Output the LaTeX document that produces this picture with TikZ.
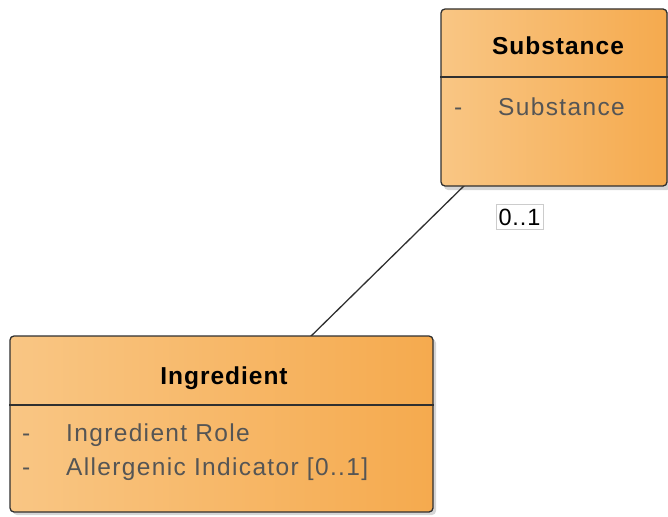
\documentclass[tikz,border=0pt]{standalone}
\usepackage{fontspec}
\setmainfont{Liberation Sans}
\usetikzlibrary{calc}
\definecolor{boxL}{HTML}{F9C684}
\definecolor{boxM}{HTML}{FAD09A}
\definecolor{boxR}{HTML}{F5AA4E}
\definecolor{edge}{HTML}{303030}
\definecolor{attr}{HTML}{555555}
\tikzset{
  umlbox/.style={draw=edge, line width=1.3pt, rounded corners=4pt, left color=boxL, middle color=boxM, right color=boxR, shading angle=90, inner sep=0pt},
  boxshadow/.style={fill=gray!55, rounded corners=4pt, opacity=0.6},
  title/.style={font=\fontsize{24.5}{28}\selectfont\bfseries\addfontfeature{LetterSpace=4}, text=black, inner sep=0pt, anchor=base},
  attrtext/.style={font=\fontsize{24.5}{28}\selectfont\addfontfeature{LetterSpace=5.5}, text=attr, inner sep=0pt, anchor=base west},
  divider/.style={draw=edge, line width=1.3pt},
  mult/.style={draw=gray!40, fill=white, font=\fontsize{23.5}{26}\selectfont\addfontfeature{LetterSpace=4}, inner xsep=2.5pt, inner ysep=4pt, text=black},
  assoc/.style={draw=edge, line width=1.3pt}
}
\begin{document}
\begin{tikzpicture}[x=1pt,y=-1pt]
\useasboundingbox (0,0) rectangle (668,516);
% shadows
\fill[boxshadow] (444,12) rectangle (671,190);
\fill[boxshadow] (13,339) rectangle (436,515);
% association line
\path (554,97.5) coordinate (subc) (221.5,424) coordinate (ingc);
\draw[assoc] (subc) -- (ingc);
% Substance class
\node[umlbox, minimum width=226pt, minimum height=177pt] (sub) at (554,97.5) {};
\draw[divider] (sub.west |- 0,77) coordinate (sd1) -- (sub.east |- 0,77) coordinate (sd2);
\node[title] (subt) at (558,55) {Substance};
\node[attrtext] (suba1) at (454,115) {-};
\node[attrtext] (suba2) at (498,115) {Substance};
% Ingredient class
\node[umlbox, minimum width=423pt, minimum height=176pt] (ing) at (221.5,424) {};
\draw[divider] (ing.west |- 0,405) coordinate (id1) -- (ing.east |- 0,405) coordinate (id2);
\node[title] (ingt) at (224,384) {Ingredient};
\node[attrtext] (inga1) at (22,441) {-};
\node[attrtext] (inga2) at (66,441) {Ingredient Role};
\node[attrtext] (inga3) at (22,475) {-};
\node[attrtext] (inga4) at (66,475) {Allergenic Indicator [0..1]};
% multiplicity
\node[mult] (m1) at (519.5,217) {0..1};
\end{tikzpicture}
\end{document}
